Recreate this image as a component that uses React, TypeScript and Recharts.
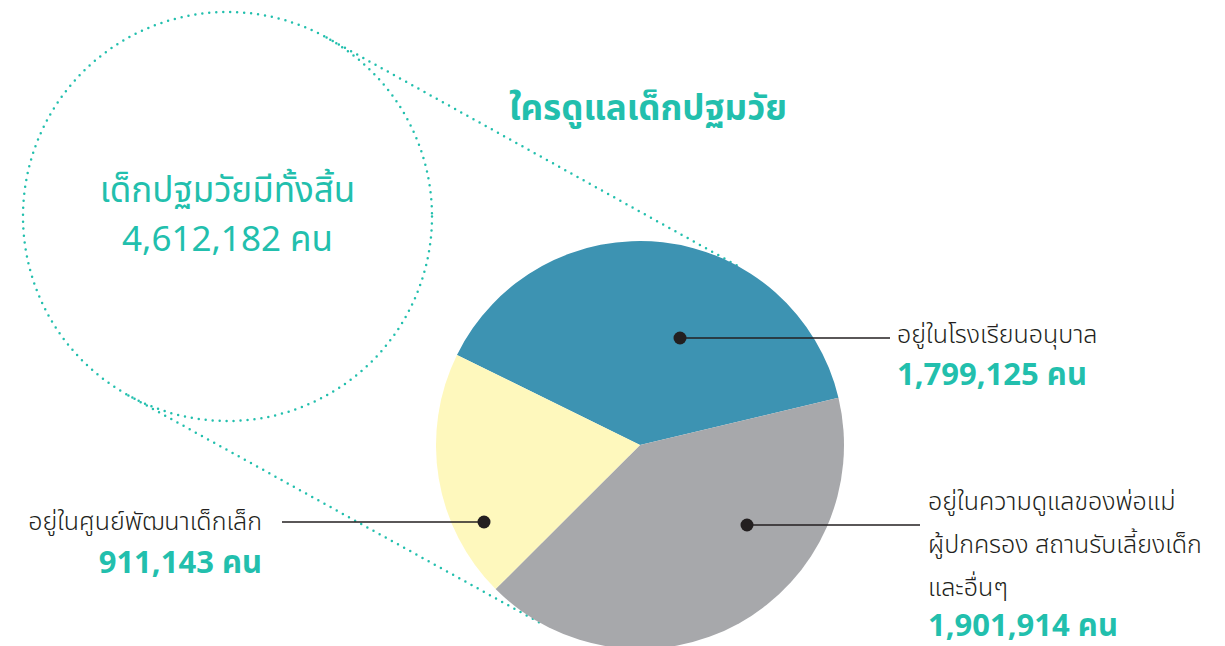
import React from 'react';
import { PieChart, Pie, Cell, Customized } from 'recharts';

const TITLE = 'ใครดูแลเด็กปฐมวัย';
const TOTAL_LABEL = 'เด็กปฐมวัยมีทั้งสิ้น';
const UNIT = 'คน';

const categories = ['preschool', 'family', 'childcenter'];
const labelLines: string[][] = [
  ['อยู่ในโรงเรียนอนุบาล'],
  ['อยู่ในความดูแลของพ่อแม่', 'ผู้ปกครอง สถานรับเลี้ยงเด็ก', 'และอื่นๆ'],
  ['อยู่ในศูนย์พัฒนาเด็กเล็ก'],
];
const values = [1799125, 1901914, 911143];
const colors = ['#3d93b2', '#a7a8ab', '#fef8bd'];

const data = categories.map((c, i) => ({ name: c, value: values[i] }));
const total = values.reduce((a, b) => a + b, 0);

const W = 1225;
const H = 646;
const PIE_CX = 640;
const PIE_CY = 445;
const R = 204;
const CIRCLE_CX = 227.5;
const CIRCLE_CY = 216.5;
const CIRCLE_R = 204.5;
const START = 153.8;

const TEAL = '#22bfad';
const INK = '#231f20';
const FONT = "'Noto Sans Thai', 'Noto Sans', 'DejaVu Sans', sans-serif";

const fmt = (v: number) => v.toLocaleString('en-US');

// label layout (relative to pie centre)
const labelLayout = [
  { dx: 40, dy: -107, lineTo: 250, textX: 257, anchor: 'start', firstDy: 5, lineGap: 43, valueGap: 42 },
  { dx: 107, dy: 80, lineTo: 280, textX: 288, anchor: 'start', firstDy: -15, lineGap: 43, valueGap: 40 },
  { dx: -156, dy: 77, lineTo: -358, textX: -378, anchor: 'end', firstDy: 8, lineGap: 43, valueGap: 43 },
];

const renderLabel = (props: any) => {
  const { cx, cy, index } = props;
  const L = labelLayout[index];
  const dotX = cx + L.dx;
  const dotY = cy + L.dy;
  const lines = labelLines[index];
  const tx = cx + L.textX;
  const y0 = dotY + L.firstDy;
  return (
    <g key={`lbl-${index}`}>
      <line x1={dotX} y1={dotY} x2={cx + L.lineTo} y2={dotY} stroke={INK} strokeWidth={1.6} />
      <circle cx={dotX} cy={dotY} r={6.5} fill={INK} />
      {lines.map((t, i) => (
        <text key={i} x={tx} y={y0 + i * L.lineGap} textAnchor={L.anchor as any} fontFamily={FONT}
          fontSize={25} fill={INK} fontWeight={300}>
          {t}
        </text>
      ))}
      <text x={tx} y={y0 + (lines.length - 1) * L.lineGap + L.valueGap} textAnchor={L.anchor as any}
        fontFamily={FONT} fontSize={31} fontWeight={700} fill={TEAL}>
        {`${fmt(values[index])} ${UNIT}`}
      </text>
    </g>
  );
};

const DottedGuides = () => {
  const dx = PIE_CX - CIRCLE_CX;
  const dy = PIE_CY - CIRCLE_CY;
  const len = Math.sqrt(dx * dx + dy * dy);
  const px = dy / len;
  const py = -dx / len;
  const dotted = { stroke: TEAL, strokeWidth: 2.5, strokeDasharray: '0 7', strokeLinecap: 'round' as const, fill: 'none' };
  return (
    <g>
      <circle cx={CIRCLE_CX} cy={CIRCLE_CY} r={CIRCLE_R} {...dotted} />
      <line x1={CIRCLE_CX + px * CIRCLE_R} y1={CIRCLE_CY + py * CIRCLE_R} x2={PIE_CX + px * R} y2={PIE_CY + py * R} {...dotted} />
      <line x1={CIRCLE_CX - px * CIRCLE_R} y1={CIRCLE_CY - py * CIRCLE_R} x2={PIE_CX - px * R} y2={PIE_CY - py * R} {...dotted} />
      <text x={CIRCLE_CX} y={202} textAnchor="middle" fontFamily={FONT} fontSize={35} fill={TEAL}>{TOTAL_LABEL}</text>
      <text x={CIRCLE_CX} y={251} textAnchor="middle" fontFamily={FONT} fontSize={35} fill={TEAL}>{`${fmt(total)} ${UNIT}`}</text>
      <text x={648} y={120} textAnchor="middle" fontFamily={FONT} fontSize={35} fontWeight={700} fill={TEAL}>{TITLE}</text>
    </g>
  );
};

export default function App() {
  return (
    <div style={{ position: 'absolute', left: 0, top: 0, width: W, height: H, background: '#fff' }}>
      <PieChart width={W} height={H} margin={{ top: 0, right: 0, bottom: 0, left: 0 }}>
        <Customized component={DottedGuides} />
        <Pie
          data={data}
          dataKey="value"
          nameKey="name"
          cx={PIE_CX}
          cy={PIE_CY}
          outerRadius={R}
          startAngle={START}
          endAngle={START - 360}
          stroke="none"
          label={renderLabel}
          labelLine={false}
          isAnimationActive={false}
        >
          {data.map((d, i) => (
            <Cell key={d.name} fill={colors[i]} />
          ))}
        </Pie>
      </PieChart>
    </div>
  );
}
